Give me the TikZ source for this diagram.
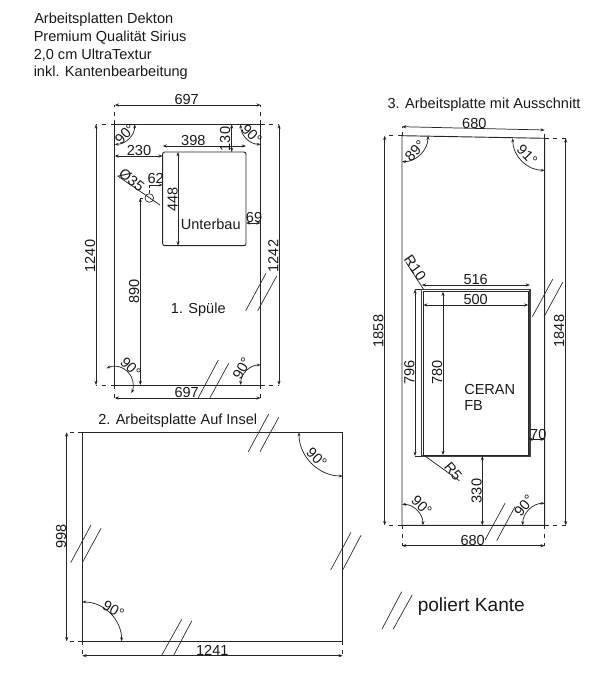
\documentclass[tikz,border=0pt]{standalone}
\usepackage{fontspec}
\setmainfont{Liberation Sans}
\usetikzlibrary{arrows.meta}
\newcommand{\fs}[1]{\fontsize{#1}{#1}\selectfont}
\newcommand{\angmark}[6][]{%
  \draw[anglearc,#1] ([shift={(#4:#3)}]#2) arc (#4:#5:#3);}
\tikzset{
  x=0.75pt,y=-0.75pt,
  edge/.style={line width=0.7pt,draw=black!85},
  thinedge/.style={line width=0.55pt,draw=black!85},
  dimline/.style={line width=0.55pt,draw=black!85,{Stealth[length=3.2pt,width=2.4pt]}-{Stealth[length=3.2pt,width=2.4pt]}},
  anglearc/.style={line width=0.55pt,draw=black!85,{Stealth[length=3pt,width=2.2pt]}-{Stealth[length=3pt,width=2.2pt]}},
  ext/.style={line width=0.55pt,draw=black!85,dash pattern=on 3pt off 3.5pt},
  polish/.style={line width=0.5pt,draw=black!85},
  lab/.style={inner sep=0pt,text=black!90,font=\fs{10.9pt}},
  note/.style={inner sep=0pt,anchor=west,text=black!90,font=\fs{10.9pt}},
  ang/.style={inner sep=0pt,text=black!90,font=\fs{10.9pt}},
}
\begin{document}
\begin{tikzpicture}
\useasboundingbox (0,0) rectangle (609,685);
% header
\node[note] (h1) at (34,20) {Arbeitsplatten Dekton};
\node[note] (h2) at (33.5,37.5) {Premium Qualität Sirius};
\node[note] (h3) at (33.5,55) {2,0 cm UltraTextur};
\node[note] (h4) at (33.5,73) {inkl. Kantenbearbeitung};

% ===== panel 1
\coordinate (aTL) at (114.7,124.3); \coordinate (aTR) at (260.7,124.3);
\coordinate (aBL) at (114.7,385);   \coordinate (aBR) at (260.7,385);
\coordinate (aTLx) at (96,124.3); \coordinate (aTRx) at (279,124.3);
\coordinate (aBLx) at (96,385);   \coordinate (aBRx) at (279,385);
\coordinate (aTd1) at (114.7,105); \coordinate (aTd2) at (260.7,105);
\coordinate (aBd1) at (114.7,398); \coordinate (aBd2) at (260.7,398);
\draw[edge] (aBR) -- (aTR) -- (aTL) -- (aBL) -- (aBR);
\draw[ext] (aTL) -- (aTLx) (aTR) -- (aTRx) (aBL) -- (aBLx) (aBR) -- (aBRx);
\draw[ext] (aTL) -- (aTd1) (aTR) -- (aTd2) (aBL) -- (aBd1) (aBR) -- (aBd2);
\draw[dimline] (aTd1) -- (aTd2);
\node[lab] (d697a) at (186.7,99.3) {697};
\draw[dimline] (aBd1) -- (aBd2);
\node[lab] (d697b) at (186.7,392) {697};
\draw[dimline] (aTLx) -- (aBLx);
\draw[dimline] (aTRx) -- (aBRx);
\node[lab,rotate=90] (d1240) at (90,256) {1240};
\node[lab,rotate=90] (d1242) at (273.3,256) {1242};
% Unterbau
\draw[edge,rounded corners=1.5pt] (162.7,152) rectangle (246,245.7);
\draw[dimline] (162.7,146) -- (246,146);
\node[lab] (d398) at (193.3,140.7) {398};
\draw[dimline] (114.7,156) -- (162.7,156);
\node[lab] (d230) at (139,150.7) {230};
\draw[dimline] (231.7,124.3) -- (231.7,152);
\node[lab,rotate=90] (d130) at (225,139) {130};
\draw[dimline] (178,152) -- (178,245.7);
\node[lab,rotate=90] (d448) at (172.7,199.3) {448};
\draw[dimline] (246,223) -- (260.7,223);
\node[lab] (d69) at (254,217.3) {69};
\node[lab] (unterbau) at (210.7,224) {Unterbau};
% hole
\node[circle,draw=black!85,line width=0.5pt,minimum size=6.5pt,inner sep=0pt] (hole) at (149.3,198) {};
\draw[thinedge] (117.7,176) -- (160,205);
\node[lab,rotate=-38] (d35) at (131.7,180) {Ø35};
\draw[thinedge,-{Stealth[length=3pt,width=2.2pt]}] (149.3,185) -- (162.7,185);
\draw[ext,dash pattern=on 2pt off 2pt] (149.3,185) -- (hole.north);
\node[lab] (d62) at (155.7,178.3) {62};
\draw[dimline] (140.3,198) -- (140.3,385);
\draw[thinedge] (140.3,198) -- (142.5,198);
\draw[thinedge] (140.3,385) -- (150,385);
\node[lab,rotate=90] (d890) at (134,291.7) {890};
\node[lab] (spuele) at (198.3,310) {1. Spüle};
% angles
\angmark{aTL}{20}{0}{90}{}
\angmark{aTR}{20}{90}{180}{}
\angmark{aBL}{18.5}{244}{386}{}
\angmark{aBR}{20}{180}{270}{}
\node[ang,rotate=45] (a1) at (125,134.3) {90°};
\node[ang,rotate=-45] (a2) at (251.7,134.3) {90°};
\node[ang,rotate=-45] (a3) at (130.7,367.3) {90°};
\node[ang,rotate=60] (a4) at (241.7,368.3) {90°};
% polish marks
\draw[polish] (266,273.3) -- (245.7,310.7) (276.7,276) -- (257.7,310.7);
\draw[polish] (218.3,360) -- (198.3,397.7) (228.7,363.3) -- (210,397.7);

% ===== panel 2
\coordinate (bTL) at (82.3,432.3); \coordinate (bTR) at (342.7,432.3);
\coordinate (bBL) at (82.3,641.3); \coordinate (bBR) at (342.7,641.3);
\draw[edge] (bTL) -- (bTR) -- (bBR) -- (bBL) -- cycle;
\coordinate (bTx) at (66.7,432.3); \coordinate (bBx) at (66.7,641.3);
\coordinate (bd1) at (82.3,655.7); \coordinate (bd2) at (342.7,655.7);
\draw[ext] (bTL) -- (bTx) (bBL) -- (bBx) (bBL) -- (bd1) (bBR) -- (bd2);
\draw[dimline] (bTx) -- (bBx);
\draw[dimline] (bd1) -- (bd2);
\node[lab,rotate=90] (d998) at (61,536.7) {998};
\node[lab] (d1241) at (212.3,650.7) {1241};
\node[lab] (t2) at (177.7,420.7) {2. Arbeitsplatte Auf Insel};
\angmark{bTR}{43.7}{90}{180}{}
\angmark{bBL}{39.3}{270}{360}{}
\node[ang,rotate=-45] (b1) at (316.7,457.7) {90°};
\node[ang,rotate=-30] (b2) at (113.3,609.3) {90°};
\draw[polish] (268.7,414) -- (248.3,451.7) (278.7,417.3) -- (260,451.7);
\draw[polish] (91,525) -- (70.7,562.7) (101,528.3) -- (82.3,562.7);
\draw[polish] (351,532.3) -- (330.7,570) (361,535.3) -- (342.7,570);
\draw[polish] (181.7,619.3) -- (161.3,656) (191.7,621) -- (173.3,656);

% ===== panel 3
\coordinate (cTL) at (402,135.7); \coordinate (cTR) at (544.7,138.3);
\coordinate (cBL) at (402,525.3); \coordinate (cBR) at (544.7,525.3);
\draw[edge] (cTL) -- (cTR) -- (cBR) -- (cBL) -- cycle;
\coordinate (cTLx) at (384.7,135.7); \coordinate (cTRx) at (565.7,138.3);
\coordinate (cBLx) at (384.7,525.3); \coordinate (cBRx) at (565.7,525.3);
\coordinate (cd1) at (402,126.7); \coordinate (cd2) at (544.7,130);
\coordinate (cd3) at (402,545.7); \coordinate (cd4) at (544.7,545.7);
\draw[ext] (cTL) -- (cTLx) (cTR) -- (cTRx) (cBL) -- (cBLx) (cBR) -- (cBRx);
\draw[ext] (cTL) -- (cd1) (cTR) -- (cd2) (cBL) -- (cd3) (cBR) -- (cd4);
\draw[dimline] (cd1) -- (cd2);
\draw[dimline] (cd3) -- (cd4);
\draw[dimline] (cTLx) -- (cBLx);
\draw[dimline] (cTRx) -- (cBRx);
\node[lab] (t3) at (484,104.3) {3. Arbeitsplatte mit Ausschnitt};
\node[lab] (d680a) at (474.3,123.3) {680};
\node[lab] (d680b) at (472.7,540.7) {680};
\node[lab,rotate=90] (d1858) at (378.3,331) {1858};
\node[lab,rotate=90] (d1848) at (559,331) {1848};
% cut-out
\draw[line width=0.9pt,draw=black!75] (421.7,289.3) rectangle (530,456);
\draw[line width=0.6pt,draw=black!85] (423.3,291.7) rectangle (528.3,455);
\draw[dimline] (421.7,285) -- (530,285);
\draw[dimline] (423.3,305) -- (528.3,305);
\node[lab] (d516) at (475.7,279) {516};
\node[lab] (d500) at (475.7,299.5) {500};
\draw[dimline] (415,289.3) -- (415,456);
\draw[thinedge] (415,289.3) -- (421,289.3) (415,456) -- (421,456);
\draw[dimline] (443,291.7) -- (443,455);
\node[lab,rotate=90] (d796) at (409.3,372.7) {796};
\node[lab,rotate=90] (d780) at (437,372.7) {780};
\draw[dimline] (482.3,456) -- (482.3,525.3);
\node[lab,rotate=90] (d330) at (476.7,491) {330};
\draw[dimline] (528.3,439.3) -- (544.7,439.3);
\node[lab] (d70) at (538.3,434) {70};
\node[lab,anchor=west] (ceran) at (464,389) {CERAN};
\node[lab,anchor=west] (fb) at (464,405.7) {FB};
\draw[thinedge] (405.7,261.7) -- (423.3,289);
\node[lab,rotate=-55] (r10) at (415.2,268) {R10};
\draw[thinedge] (425,456) -- (459.3,480.7);
\node[lab,rotate=-50] (r5) at (453,471.7) {R5};
\angmark{cTL}{26}{0}{90}{}
\angmark{cTR}{32}{90}{180}{}
\angmark{cBL}{21}{270}{360}{}
\angmark{cBR}{22}{180}{270}{}
\node[ang,rotate=45] (c1) at (415,150.7) {89°};
\node[ang,rotate=-45] (c2) at (527.3,155) {91°};
\node[ang,rotate=-45] (c3) at (421.7,505.7) {90°};
\node[ang,rotate=50] (c4) at (524,505.7) {90°};
\draw[polish] (552.7,279.3) -- (532.3,316.7) (562.7,282.3) -- (544,316.7);
\draw[polish] (505,503.3) -- (485,540) (515,506.7) -- (496.7,540.7);

% legend
\draw[polish] (401.7,591.7) -- (382,629) (412.3,594.7) -- (393.3,629);
\node[inner sep=0pt,anchor=west,text=black!90,font=\fs{14.3pt}] (leg) at (417.5,606.7) {poliert Kante};
\end{tikzpicture}
\end{document}
